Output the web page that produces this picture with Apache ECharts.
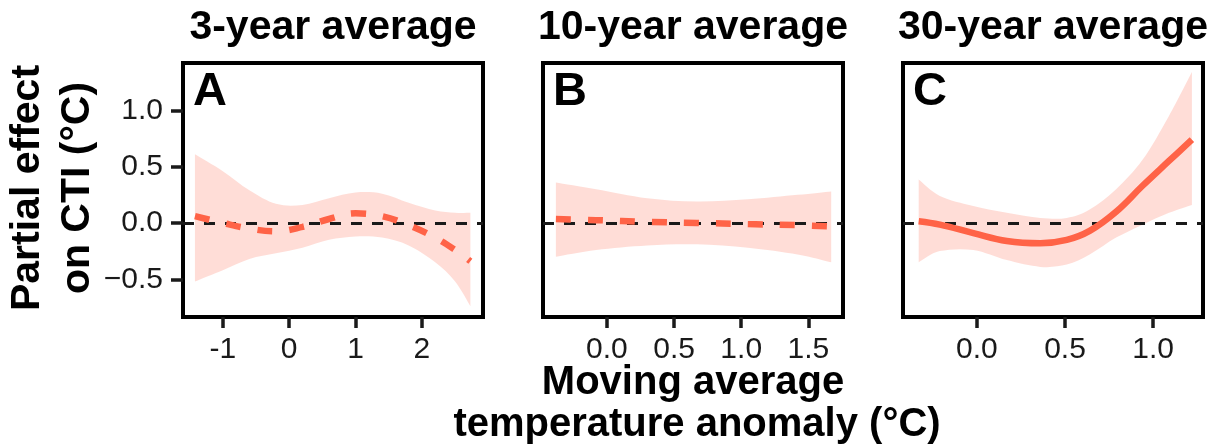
<!DOCTYPE html>
<html>
<head>
<meta charset="utf-8">
<script src="https://cdn.jsdelivr.net/npm/echarts@6/dist/echarts.min.js"></script>
<style>
  html, body { margin: 0; padding: 0; background: #fff; }
  #chart { width: 1214px; height: 447px; }
</style>
</head>
<body>
<div id="chart"></div>
<script>
// panel A: 3-year average
var xA = [-1.42, -1.0, -0.6, -0.2, 0.2, 0.6, 1.0, 1.4, 1.8, 2.2, 2.5, 2.73];
var upA = [0.61, 0.46, 0.29, 0.17, 0.16, 0.22, 0.27, 0.26, 0.18, 0.11, 0.09, 0.09];
var loA = [-0.52, -0.42, -0.32, -0.27, -0.22, -0.15, -0.12, -0.13, -0.20, -0.35, -0.52, -0.74];
var fitA = [0.06, 0.0, -0.05, -0.075, -0.035, 0.035, 0.085, 0.06, -0.02, -0.13, -0.24, -0.34];

// panel B: 10-year average
var xB = [-0.38, -0.08, 0.3, 0.67, 1.05, 1.42, 1.67];
var upB = [0.36, 0.30, 0.22, 0.19, 0.21, 0.25, 0.28];
var loB = [-0.30, -0.24, -0.20, -0.19, -0.22, -0.28, -0.35];
var fitB = [0.035, 0.025, 0.01, 0.0, -0.01, -0.02, -0.03];

// panel C: 30-year average
var xC = [-0.33, -0.21, -0.02, 0.17, 0.36, 0.51, 0.64, 0.79, 0.94, 1.09, 1.22];
var upC = [0.385, 0.24, 0.15, 0.09, 0.045, 0.045, 0.12, 0.30, 0.56, 0.95, 1.34];
var loC = [-0.35, -0.25, -0.24, -0.33, -0.39, -0.37, -0.28, -0.13, -0.015, 0.09, 0.16];
var fitC = [0.015, -0.015, -0.09, -0.16, -0.18, -0.15, -0.07, 0.10, 0.33, 0.55, 0.74];

var titles = ['3-year average', '10-year average', '30-year average'];
var letters = ['A', 'B', 'C'];
var xTicksA = [-1, 0, 1, 2];
var xTicksB = [0, 0.5, 1.0, 1.5];
var xTicksC = [0, 0.5, 1.0];
var yTicks = [-0.5, 0, 0.5, 1.0];

var chartDom = document.getElementById('chart');
var myChart = echarts.init(chartDom);
var option;

var FONT = 'Liberation Sans, Arial, sans-serif';
var lineCol = '#ff6347';
var bandCol = 'rgba(255,99,71,0.22)';
var ink = '#1a1a1a';

var panels = [
  { x: xA, up: upA, lo: loA, fit: fitA, min: -1.6, max: 2.92, ticks: xTicksA, dashed: true,
    fmt: function (v) { return String(v); } },
  { x: xB, up: upB, lo: loB, fit: fitB, min: -0.476, max: 1.758, ticks: xTicksB, dashed: true,
    fmt: function (v) { return v.toFixed(1); } },
  { x: xC, up: upC, lo: loC, fit: fitC, min: -0.419, max: 1.283, ticks: xTicksC, dashed: false,
    fmt: function (v) { return v.toFixed(1); } }
];
var lefts = [183, 543, 903];

function zip(a, b) {
  return a.map(function (v, i) { return [v, b[i]]; });
}

// catmull-rom through pixel points -> cubic bezier path segments
function curve(pts) {
  var d = '';
  for (var i = 0; i < pts.length - 1; i++) {
    var p0 = pts[i - 1] || pts[i], p1 = pts[i], p2 = pts[i + 1], p3 = pts[i + 2] || pts[i + 1];
    var c1x = p1[0] + (p2[0] - p0[0]) / 6, c1y = p1[1] + (p2[1] - p0[1]) / 6;
    var c2x = p2[0] - (p3[0] - p1[0]) / 6, c2y = p2[1] - (p3[1] - p1[1]) / 6;
    d += ' C' + c1x + ' ' + c1y + ' ' + c2x + ' ' + c2y + ' ' + p2[0] + ' ' + p2[1];
  }
  return d;
}

function bandRenderer(p) {
  return function (params, api) {
    var up = p.x.map(function (x, k) { return api.coord([x, p.up[k]]); });
    var lo = p.x.map(function (x, k) { return api.coord([x, p.lo[k]]); }).reverse();
    var d = 'M' + up[0][0] + ' ' + up[0][1] + curve(up) +
      ' L' + lo[0][0] + ' ' + lo[0][1] + curve(lo) + ' Z';
    return { type: 'path', shape: { pathData: d }, style: { fill: bandCol } };
  };
}

var grids = [], xAxes = [], yAxes = [], series = [], graphics = [];

panels.forEach(function (p, i) {
  grids.push({ left: lefts[i], top: 63, width: 300, height: 254, show: true,
    borderColor: '#000', borderWidth: 4, backgroundColor: 'transparent' });
  xAxes.push({
    type: 'value', gridIndex: i, min: p.min, max: p.max,
    splitLine: { show: false }, axisLine: { show: false, onZero: false },
    axisTick: { show: true, customValues: p.ticks, length: 11, lineStyle: { color: ink, width: 3.5 } },
    axisLabel: { customValues: p.ticks, formatter: p.fmt, fontSize: 30, color: ink, margin: 18, fontFamily: FONT }
  });
  yAxes.push({
    type: 'value', gridIndex: i, min: -0.835, max: 1.42,
    splitLine: { show: false }, axisLine: { show: false, onZero: false },
    axisTick: { show: i === 0, customValues: yTicks, length: 12, lineStyle: { color: ink, width: 3.5 } },
    axisLabel: { show: i === 0, customValues: yTicks, fontSize: 30, color: ink, margin: 20, fontFamily: FONT,
      formatter: function (v) { return v < 0 ? '\u2212' + Math.abs(v).toFixed(1) : v.toFixed(1); } }
  });
  series.push({
    type: 'custom', xAxisIndex: i, yAxisIndex: i, silent: true, z: 1,
    data: [[p.x[0], p.up[0]]],
    renderItem: bandRenderer(p),
    markLine: {
      silent: true, symbol: 'none', label: { show: false },
      lineStyle: { color: ink, width: 3, type: [11, 10] },
      data: [{ yAxis: 0 }]
    }
  });
  series.push({
    type: 'line', xAxisIndex: i, yAxisIndex: i, data: zip(p.x, p.fit), z: 10,
    smooth: 0.4, symbol: 'none', silent: true,
    lineStyle: { color: lineCol, width: 6.5, type: p.dashed ? [15, 17] : 'solid', cap: 'butt' }
  });
  graphics.push({
    type: 'text', x: lefts[i] + 150, y: 28,
    style: { text: titles[i], font: 'bold 41px ' + FONT, fill: '#000', textAlign: 'center', textVerticalAlign: 'middle' }
  });
  graphics.push({
    type: 'text', x: lefts[i] + 10, y: 92,
    style: { text: letters[i], font: 'bold 47px ' + FONT, fill: '#000', textAlign: 'left', textVerticalAlign: 'middle' }
  });
});

graphics.push({
  type: 'text', x: 28, y: 188, rotation: Math.PI / 2,
  style: { text: 'Partial effect', font: 'bold 41px ' + FONT, fill: '#000', textAlign: 'center', textVerticalAlign: 'middle' }
});
graphics.push({
  type: 'text', x: 78, y: 188, rotation: Math.PI / 2,
  style: { text: 'on CTI (°C)', font: 'bold 41px ' + FONT, fill: '#000', textAlign: 'center', textVerticalAlign: 'middle' }
});
graphics.push({
  type: 'text', x: 693, y: 383,
  style: { text: 'Moving average', font: 'bold 40px ' + FONT, fill: '#000', textAlign: 'center', textVerticalAlign: 'middle' }
});
graphics.push({
  type: 'text', x: 697, y: 425,
  style: { text: 'temperature anomaly (°C)', font: 'bold 40px ' + FONT, fill: '#000', textAlign: 'center', textVerticalAlign: 'middle' }
});

option = {
  animation: false,
  grid: grids,
  xAxis: xAxes,
  yAxis: yAxes,
  series: series,
  graphic: graphics
};

option && myChart.setOption(option);
window.addEventListener('resize', function () { myChart.resize(); });
</script>
</body>
</html>
